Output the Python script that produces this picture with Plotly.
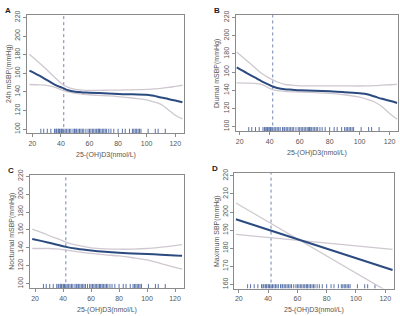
import plotly.graph_objects as go

# ---- data ----
rug_x = [26, 28, 30.5, 33, 35.5, 36.5, 37, 38, 38.5, 39, 40, 40.5, 41, 42, 43, 44, 45, 46, 47,
         48.5, 49.5, 50, 51, 52, 53, 54, 55, 56, 57.5, 59, 60, 61, 62, 63, 64, 65, 66, 66.5, 67,
         68, 69, 70, 71, 72, 73.5, 75, 77, 80, 83, 85, 88, 90, 91, 92, 93, 94, 95, 96, 101, 106,
         108, 113]
cutoff = 42

# Panel A: 24h mSBP
a_x = [18, 25, 30, 35, 40, 42, 45, 50, 55, 60, 70, 80, 90, 100, 105, 110, 115, 120, 125]
a_fit = [163, 157.5, 153, 148.5, 145, 143.8, 141.8, 140.2, 139.5, 139.2, 138.5, 137.8, 137.4, 137.1, 136, 134, 132.5, 130.8, 129]
a_hi = [180.5, 171, 164, 156.5, 149.5, 147.2, 145, 142.7, 142, 141.7, 141.8, 142, 142.3, 142.7, 143.2, 143.8, 144.8, 146, 147.2]
a_lo = [148, 147.6, 147, 145.5, 142.5, 141.3, 140, 138.5, 137.7, 137, 136, 135, 133.5, 131.5, 129.3, 126.6, 121, 115, 111]

# Panel B: Diurnal mSBP
b_x = [18, 25, 30, 35, 40, 42, 45, 50, 55, 60, 70, 80, 90, 100, 105, 110, 115, 120, 125]
b_fit = [165, 158.5, 154, 149.5, 145.5, 144, 142.5, 141, 140.5, 140, 139.5, 138.7, 137.8, 136.5, 135.5, 133, 130.5, 128.3, 126]
b_hi = [182, 172, 165, 158, 153, 151.5, 149, 146.5, 145.5, 144.8, 144.8, 144.8, 144.7, 144.6, 144.7, 145, 145.5, 146, 146.5]
b_lo = [148, 147.8, 147.5, 146, 142, 140.5, 139.5, 138.7, 138.3, 138, 137.3, 136.5, 135, 132.3, 130, 127, 121.8, 114.3, 108]

# Panel C: Nocturnal mSBP
c_x = [18, 25, 30, 35, 42, 50, 60, 70, 80, 90, 100, 110, 120, 125]
c_fit = [150, 147.5, 145.7, 143.8, 141.1, 139, 137.1, 135.6, 134.5, 133.7, 133.1, 132.4, 131.6, 131.3]
c_hi = [161, 157, 153.8, 150.8, 146.5, 143, 140, 138.8, 138.5, 138.6, 139.3, 140.8, 142.6, 143.6]
c_lo = [139.3, 139.3, 139.3, 138.8, 137.5, 135.8, 133.8, 132.3, 131, 129, 126.5, 122.5, 118.3, 116.4]

# Panel D: Maximum SBP
d_x = [18, 125]
d_fit = [196, 168]
d_hi = [205, 154.5]
d_lo = [187.6, 179.4]

panels = [
    dict(letter="A", ytitle="24h mSBP(mmHg)", x=a_x, fit=a_fit, hi=a_hi, lo=a_lo,
         ticks=[100, 120, 140, 160, 180, 200, 220], yr=[95.8, 222.5], xr=[16.3, 126.1],
         dom_x=[27, 184], dom_y=[9.3, 130]),
    dict(letter="B", ytitle="Diurnal mSBP(mmHg)", x=b_x, fit=b_fit, hi=b_hi, lo=b_lo,
         ticks=[100, 120, 140, 160, 180, 200, 220], yr=[94.6, 222.6], xr=[17.3, 125.4],
         dom_x=[235.7, 397.7], dom_y=[9.3, 128.3]),
    dict(letter="C", ytitle="Nocturnal mSBP(mmHg)", x=c_x, fit=c_fit, hi=c_hi, lo=c_lo,
         ticks=[100, 120, 140, 160, 180, 200, 220], yr=[94.9, 221.1], xr=[16.4, 126.4],
         dom_x=[30, 184], dom_y=[173, 288.7]),
    dict(letter="D", ytitle="Maximum SBP(mmHg)", x=d_x, fit=d_fit, hi=d_hi, lo=d_lo,
         ticks=[160, 170, 180, 190, 200, 210, 220], yr=[157.7, 221.6], xr=[16.9, 126.2],
         dom_x=[234.3, 394.3], dom_y=[170.7, 289]),
]

W, H = 400, 316
fig = go.Figure()
FONT = "Liberation Sans, Arial, sans-serif"
FIT_C = "#2B4A80"
CI_C = "#CFC8D0"
CUT_C = "#6F84AE"
RUG_C = "#2F4F93"
AX_C = "#8A8A8A"
TXT_C = "#555555"

for i, p in enumerate(panels, start=1):
    xa = "x" if i == 1 else f"x{i}"
    ya = "y" if i == 1 else f"y{i}"
    x0, x1 = p["dom_x"]
    t0, t1 = p["dom_y"]
    dom_x = [x0 / W, x1 / W]
    dom_y = [1 - t1 / H, 1 - t0 / H]
    ylo, yhi = p["yr"]
    hpx = t1 - t0
    rug_top = ylo + 4.5 * (yhi - ylo) / hpx

    # rug
    rx, ry = [], []
    for v in rug_x:
        rx += [v, v, None]
        ry += [ylo, rug_top, None]
    fig.add_trace(go.Scatter(x=rx, y=ry, mode="lines", line=dict(color=RUG_C, width=1),
                             opacity=0.8, xaxis=xa, yaxis=ya, showlegend=False, hoverinfo="skip"))
    # cutoff line
    fig.add_trace(go.Scatter(x=[cutoff, cutoff], y=[ylo, yhi], mode="lines",
                             line=dict(color=CUT_C, width=1, dash="dot"),
                             xaxis=xa, yaxis=ya, showlegend=False, hoverinfo="skip"))
    # CI lines
    for band in (p["hi"], p["lo"]):
        fig.add_trace(go.Scatter(x=p["x"], y=band, mode="lines", line=dict(color=CI_C, width=1.3, shape="spline"),
                                 xaxis=xa, yaxis=ya, showlegend=False, hoverinfo="skip"))
    # fit
    fig.add_trace(go.Scatter(x=p["x"], y=p["fit"], mode="lines", line=dict(color=FIT_C, width=2, shape="spline"),
                             xaxis=xa, yaxis=ya, showlegend=False, hoverinfo="skip"))

    axis_common = dict(showline=True, linecolor=AX_C, linewidth=1, mirror=True, ticks="outside",
                       ticklen=3, tickcolor=AX_C, tickwidth=1, showgrid=False, zeroline=False,
                       tickfont=dict(family=FONT, size=7, color=TXT_C))
    fig.layout[f"xaxis{'' if i == 1 else i}"] = dict(
        axis_common, domain=dom_x, range=p["xr"], tickvals=[20, 40, 60, 80, 100, 120],
        anchor=ya)
    fig.layout[f"yaxis{'' if i == 1 else i}"] = dict(
        axis_common, domain=dom_y, range=p["yr"], tickvals=p["ticks"], tickangle=-90,
        anchor=xa)

    # axis titles and panel letter
    fig.add_annotation(text="25-(OH)D3(nmol/L)", x=(x0 + x1) / 2 / W, y=1 - (t1 + 22) / H,
                       xref="paper", yref="paper", showarrow=False,
                       font=dict(family=FONT, size=7, color=TXT_C), xanchor="center", yanchor="middle")
    fig.add_annotation(text=p["ytitle"], x=(x0 - 18) / W, y=1 - (t0 + t1) / 2 / H,
                       xref="paper", yref="paper", showarrow=False, textangle=-90,
                       font=dict(family=FONT, size=7, color=TXT_C), xanchor="center", yanchor="middle")
    fig.add_annotation(text=f"<b>{p['letter']}</b>", x=(x0 - 24) / W, y=1 - (t0 - 5) / H,
                       xref="paper", yref="paper", showarrow=False,
                       font=dict(family=FONT, size=8, color="#222222"), xanchor="left", yanchor="middle")

fig.update_layout(width=W, height=H, margin=dict(l=0, r=0, t=0, b=0),
                  paper_bgcolor="white", plot_bgcolor="white")
fig.write_html("out.html", config={"displayModeBar": False},
               post_script="document.body.style.margin='0';")
